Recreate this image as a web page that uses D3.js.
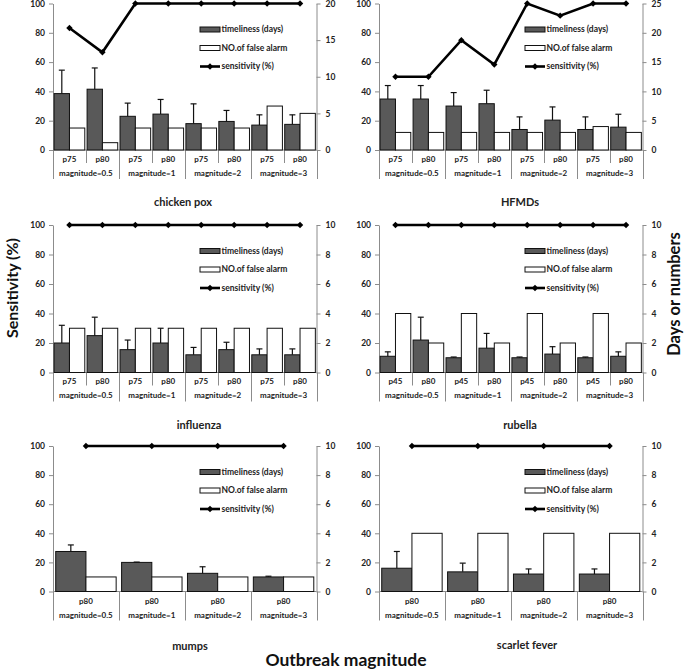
<!DOCTYPE html>
<html><head><meta charset="utf-8">
<script src="https://cdn.jsdelivr.net/npm/d3@7"></script>
<style>
html,body{margin:0;padding:0;background:#fff;}
svg{display:block;font-family:Lato,"Open Sans",sans-serif;}
</style></head>
<body><svg id="chart" width="685" height="669"></svg>
<script>
// ---------- data ----------
const groups = ["magnitude=0.5", "magnitude=1", "magnitude=2", "magnitude=3"];
const pctA = ["p75", "p80"];
const pctRubella = ["p45", "p80"];
const pctSingle = ["p80"];
const leftTicks = [0, 20, 40, 60, 80, 100];
const rightTicks20 = [0, 5, 10, 15, 20];
const rightTicks25 = [0, 5, 10, 15, 20, 25];
const rightTicks10 = [0, 2, 4, 6, 8, 10];
const legendLabels = ["timeliness (days)", "NO.of false alarm", "sensitivity (%)"];

const chickenpoxDays   = [7.7, 8.3, 4.6, 4.9, 3.6, 3.9, 3.4, 3.5];
const chickenpoxSD     = [3.2, 2.9, 1.8, 2.0, 2.7, 1.5, 1.4, 1.3];
const chickenpoxAlarms = [3, 1, 3, 3, 3, 3, 6, 5];
const chickenpoxSens   = [83.3, 66.7, 100, 100, 100, 100, 100, 100];

const hfmdDays   = [8.7, 8.7, 7.5, 7.9, 3.5, 5.1, 3.5, 3.9];
const hfmdSD     = [2.3, 2.3, 2.3, 2.3, 2.15, 2.25, 2.15, 2.2];
const hfmdAlarms = [3, 3, 3, 3, 3, 3, 4, 3];
const hfmdSens   = [50, 50, 75, 58.3, 100, 91.7, 100, 100];

const influenzaDays   = [2.0, 2.5, 1.55, 2.0, 1.2, 1.55, 1.2, 1.2];
const influenzaSD     = [1.2, 1.25, 0.65, 1.0, 0.5, 0.5, 0.4, 0.4];
const influenzaAlarms = [3, 3, 3, 3, 3, 3, 3, 3];
const influenzaSens   = [100, 100, 100, 100, 100, 100, 100, 100];

const rubellaDays   = [1.1, 2.2, 1.0, 1.65, 1.0, 1.25, 1.0, 1.1];
const rubellaSD     = [0.3, 1.55, 0.05, 1.0, 0.05, 0.5, 0.05, 0.3];
const rubellaAlarms = [4, 2, 4, 2, 4, 2, 4, 2];
const rubellaSens   = [100, 100, 100, 100, 100, 100, 100, 100];

const mumpsDays   = [2.75, 2.0, 1.25, 1.0];
const mumpsSD     = [0.45, 0.02, 0.45, 0.05];
const mumpsAlarms = [1, 1, 1, 1];
const mumpsSens   = [100, 100, 100, 100];

const scarletDays   = [1.6, 1.35, 1.2, 1.2];
const scarletSD     = [1.15, 0.6, 0.35, 0.35];
const scarletAlarms = [4, 4, 4, 4];
const scarletSens   = [100, 100, 100, 100];

// ---------- layout ----------
const svg = d3.select("#chart");
const AXIS = "#8c8c8c";
const DARK = "#595959";
const FONT = "Lato, 'Open Sans', sans-serif";

function diamond(r) { return `M0,${-r}L${r},0L0,${r}L${-r},0Z`; }

function panel(cfg) {
  const g = svg.append("g");
  const cats = d3.cross(groups, cfg.pct);
  const n = cats.length;
  const x = d3.scaleBand().domain(d3.range(n)).range([cfg.left, cfg.right]);
  const bw = x.bandwidth();
  const yL = d3.scaleLinear().domain([0, 100]).range([cfg.zero, cfg.top]);
  const yR = d3.scaleLinear().domain([0, d3.max(cfg.rTicks)]).range([cfg.zero, cfg.top]);
  const sub = d3.scaleBand().domain(["days", "alarm"]).range([0, bw]).paddingOuter(n > 4 ? 0.075 : 0.09);

  // axes
  const la = g.append("g").attr("transform", `translate(${cfg.left},0)`)
    .call(d3.axisLeft(yL).tickValues(leftTicks).tickSize(4).tickSizeOuter(0).tickPadding(4));
  const ra = g.append("g").attr("transform", `translate(${cfg.right},0)`)
    .call(d3.axisRight(yR).tickValues(cfg.rTicks).tickSize(4).tickSizeOuter(0).tickPadding(5));
  [la, ra].forEach(a => {
    a.selectAll("path,line").attr("stroke", AXIS);
    a.selectAll("text").attr("font-family", FONT).attr("font-weight", 700)
      .attr("font-size", "8.5px").attr("fill", "#222");
  });

  // baseline
  g.append("line").attr("x1", cfg.left).attr("x2", cfg.right)
    .attr("y1", cfg.zero).attr("y2", cfg.zero).attr("stroke", AXIS);

  // category table separators
  const longLen = 29, shortLen = 13;
  const seps = d3.range(n + 1).map(i => {
    const isGroup = (i % cfg.pct.length === 0);
    return { x: i === n ? cfg.right : x(i), len: isGroup ? longLen : shortLen };
  });
  g.selectAll(".sep").data(seps).join("line")
    .attr("x1", d => Math.round(d.x) + 0.5).attr("x2", d => Math.round(d.x) + 0.5)
    .attr("y1", cfg.zero).attr("y2", d => cfg.zero + d.len)
    .attr("stroke", AXIS);

  // category labels
  g.selectAll(".plab").data(cats).join("text")
    .attr("x", (d, i) => x(i) + bw / 2).attr("y", cfg.zero + (n > 4 ? 9 : 10))
    .attr("dy", "0.35em").attr("text-anchor", "middle")
    .attr("font-family", FONT).attr("font-weight", 700).attr("font-size", "8px").attr("fill", "#222")
    .text(d => d[1]);
  g.selectAll(".glab").data(groups).join("text")
    .attr("x", (d, i) => x(i * cfg.pct.length) + bw * cfg.pct.length / 2)
    .attr("y", cfg.zero + (n > 4 ? 23 : 24))
    .attr("dy", "0.35em").attr("text-anchor", "middle")
    .attr("font-family", FONT).attr("font-weight", 700).attr("font-size", "8px").attr("fill", "#222")
    .text(d => d);

  // bars
  const rows = cats.map((c, i) => ({ i, days: cfg.days[i], sd: cfg.sd[i], alarm: cfg.alarms[i], sens: cfg.sens[i] }));
  g.selectAll(".bd").data(rows).join("rect")
    .attr("x", d => x(d.i) + sub("days")).attr("width", sub.bandwidth())
    .attr("y", d => yR(d.days)).attr("height", d => cfg.zero - yR(d.days))
    .attr("fill", DARK).attr("stroke", "#111").attr("stroke-width", 1);
  g.selectAll(".ba").data(rows).join("rect")
    .attr("x", d => x(d.i) + sub("alarm")).attr("width", sub.bandwidth())
    .attr("y", d => yR(d.alarm)).attr("height", d => cfg.zero - yR(d.alarm))
    .attr("fill", "#fff").attr("stroke", "#111").attr("stroke-width", 1);
  // error bars (upper only)
  const ex = d => x(d.i) + sub("days") + sub.bandwidth() / 2;
  g.selectAll(".ev").data(rows).join("line")
    .attr("x1", ex).attr("x2", ex)
    .attr("y1", d => yR(d.days)).attr("y2", d => yR(d.days + d.sd))
    .attr("stroke", "#111").attr("stroke-width", 1.2);
  g.selectAll(".ec").data(rows).join("line")
    .attr("x1", d => ex(d) - 3).attr("x2", d => ex(d) + 3)
    .attr("y1", d => yR(d.days + d.sd)).attr("y2", d => yR(d.days + d.sd))
    .attr("stroke", "#111").attr("stroke-width", 1.2);

  // sensitivity line
  const line = d3.line().x(d => x(d.i) + bw / 2).y(d => yL(d.sens));
  g.append("path").datum(rows).attr("d", line)
    .attr("fill", "none").attr("stroke", "#000").attr("stroke-width", 2.6);
  g.selectAll(".mk").data(rows).join("path")
    .attr("transform", d => `translate(${x(d.i) + bw / 2},${yL(d.sens)})`)
    .attr("d", diamond(3.2)).attr("fill", "#000");

  // legend
  const lx = cfg.left + cfg.legDx;
  const ly = [cfg.top + 26, cfg.top + 44.5, cfg.top + 63];
  const lg = g.append("g").attr("font-family", FONT).attr("font-weight", 700).attr("font-size", "8.5px").attr("fill", "#222");
  lg.append("rect").attr("x", lx).attr("y", ly[0] - 2.5).attr("width", 20).attr("height", 5)
    .attr("fill", DARK).attr("stroke", "#111");
  lg.append("rect").attr("x", lx).attr("y", ly[1] - 2.5).attr("width", 20).attr("height", 5)
    .attr("fill", "#fff").attr("stroke", "#111");
  lg.append("line").attr("x1", lx).attr("x2", lx + 20).attr("y1", ly[2]).attr("y2", ly[2])
    .attr("stroke", "#000").attr("stroke-width", 2.6);
  lg.append("path").attr("transform", `translate(${lx + 10},${ly[2]})`).attr("d", diamond(3.2)).attr("fill", "#000");
  legendLabels.forEach((t, k) => {
    lg.append("text").attr("x", lx + 21.5).attr("y", ly[k]).attr("dy", "0.35em").text(t);
  });

  // title
  g.append("text").attr("x", cfg.titleX).attr("y", cfg.titleY).attr("dy", "0.35em")
    .attr("text-anchor", "middle").attr("font-family", FONT).attr("font-weight", 700)
    .attr("font-size", "11px").attr("fill", "#222").text(cfg.title);
}

const L = { left: 53, right: 316.5, legDx: 147 };
const R = { left: 379, right: 642.5, legDx: 146 };

panel({ ...L, top: 3.5, zero: 150, rTicks: rightTicks20, pct: pctA,
  days: chickenpoxDays, sd: chickenpoxSD, alarms: chickenpoxAlarms, sens: chickenpoxSens,
  title: "chicken pox", titleX: 183, titleY: 202 });
panel({ ...R, top: 3.5, zero: 150, rTicks: rightTicks25, pct: pctA,
  days: hfmdDays, sd: hfmdSD, alarms: hfmdAlarms, sens: hfmdSens,
  title: "HFMDs", titleX: 520, titleY: 202 });
panel({ ...L, top: 225, zero: 372.5, rTicks: rightTicks10, pct: pctA,
  days: influenzaDays, sd: influenzaSD, alarms: influenzaAlarms, sens: influenzaSens,
  title: "influenza", titleX: 199, titleY: 425 });
panel({ ...R, top: 225, zero: 372.5, rTicks: rightTicks10, pct: pctRubella,
  days: rubellaDays, sd: rubellaSD, alarms: rubellaAlarms, sens: rubellaSens,
  title: "rubella", titleX: 520, titleY: 425 });
panel({ ...L, top: 446, zero: 591.5, rTicks: rightTicks10, pct: pctSingle,
  days: mumpsDays, sd: mumpsSD, alarms: mumpsAlarms, sens: mumpsSens,
  title: "mumps", titleX: 190, titleY: 646 });
panel({ ...R, top: 446, zero: 591.5, rTicks: rightTicks10, pct: pctSingle,
  days: scarletDays, sd: scarletSD, alarms: scarletAlarms, sens: scarletSens,
  title: "scarlet fever", titleX: 527, titleY: 645 });

// global axis titles
svg.append("text").attr("transform", "translate(12,288) rotate(-90)")
  .attr("text-anchor", "middle").attr("dy", "0.35em")
  .attr("font-family", FONT).attr("font-weight", 700).attr("font-size", "16px").attr("fill", "#111")
  .text("Sensitivity (%)");
svg.append("text").attr("transform", "translate(674,294) rotate(-90)")
  .attr("text-anchor", "middle").attr("dy", "0.35em")
  .attr("font-family", FONT).attr("font-weight", 700).attr("font-size", "16.5px").attr("fill", "#111")
  .text("Days or numbers");
svg.append("text").attr("x", 346).attr("y", 660).attr("dy", "0.35em")
  .attr("text-anchor", "middle")
  .attr("font-family", FONT).attr("font-weight", 700).attr("font-size", "17.5px").attr("fill", "#111")
  .text("Outbreak magnitude");
</script></body></html>
